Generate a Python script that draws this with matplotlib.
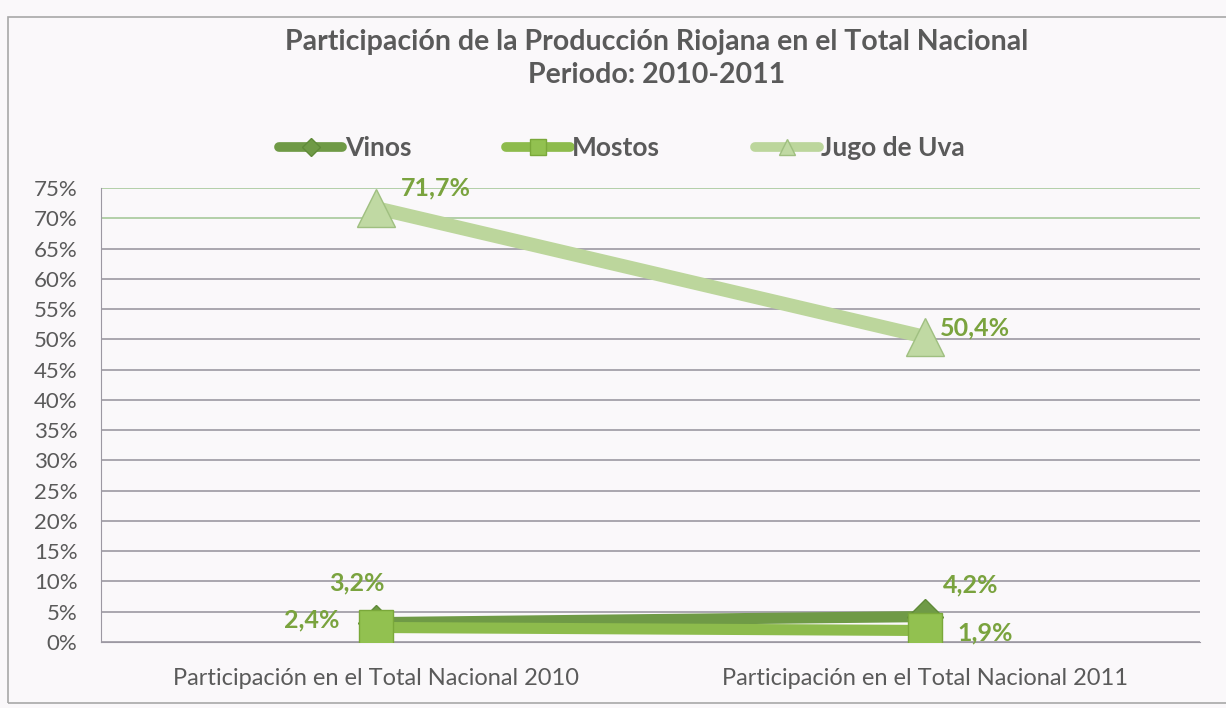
import matplotlib
matplotlib.use("Agg")
import matplotlib.pyplot as plt
from matplotlib.patches import Rectangle
from matplotlib.lines import Line2D

categories = ["Participación en el Total Nacional 2010", "Participación en el Total Nacional 2011"]
vinos = [3.2, 4.2]
mostos = [2.4, 1.9]
jugo = [71.7, 50.4]
series_names = ["Vinos", "Mostos", "Jugo de Uva"]
yticks = list(range(0, 80, 5))

plt.rcParams['font.family'] = ['Lato', 'DejaVu Sans']
bg = '#faf8fa'
fig = plt.figure(figsize=(12.26, 7.08), dpi=100, facecolor=bg)
ax = fig.add_axes([101/1226, 1 - 642/708, 1099/1226, (642-188)/708])
ax.set_facecolor(bg)

# outer border
fig.patches.append(Rectangle((8/1226, 5/708), 1.2, (690-5)/708 + 0.001, transform=fig.transFigure,
                             fill=False, edgecolor='#a8a8a8', linewidth=1.2))

x = list(range(len(categories)))
c_vinos = '#6f9a46'
c_mostos = '#8dbb4c'
c_jugo = '#bcd69c'

ax.plot(x, vinos, color=c_vinos, lw=8, marker='D', ms=18, mfc=c_vinos, mec='#5f8a38', zorder=3,
        solid_capstyle='butt')
ax.plot(x, mostos, color=c_mostos, lw=8, marker='s', ms=24, mfc='#92c150', mec='#7aa83a', zorder=4,
        solid_capstyle='butt')
ax.plot(x, jugo, color=c_jugo, lw=10, marker='^', ms=27, mfc='#c0d9a3', mec='#9fbf80', zorder=5,
        solid_capstyle='butt')

lab_col = '#7aa33e'
lkw = dict(color=lab_col, fontsize=18, fontweight='bold', zorder=6, ha='center', va='center',
           textcoords='offset points')
ax.annotate("71,7%", (0, jugo[0]), xytext=(43, 14.4), **lkw)
ax.annotate("50,4%", (1, jugo[1]), xytext=(36, 6.5), **lkw)
ax.annotate("3,2%", (0, vinos[0]), xytext=(-13.7, 28.5), **lkw)
ax.annotate("4,2%", (1, vinos[1]), xytext=(32.4, 22.7), **lkw)
ax.annotate("2,4%", (0, mostos[0]), xytext=(-46, 5.4), **lkw)
ax.annotate("1,9%", (1, mostos[1]), xytext=(43, -1.8), **lkw)

ax.set_xlim(-0.5, 1.5)
ax.set_ylim(0, 75)
ax.set_yticks(yticks)
ax.set_yticklabels([f"{v}%" for v in yticks])
ax.set_xticks(x)
ax.set_xticklabels(categories)
ax.tick_params(axis='both', length=0, colors='#5a5a5a', labelsize=16)
ax.tick_params(axis='x', pad=19, labelsize=17)
ax.tick_params(axis='y', pad=17)

for v in yticks:
    col = '#a6c99a' if v >= 70 else '#9c98a2'
    ax.axhline(v, color=col, lw=1.2, zorder=1)
for s in ['top', 'right']:
    ax.spines[s].set_visible(False)
ax.spines['left'].set_color('#9c98a2')
ax.spines['bottom'].set_color('#9c98a2')

fig.text(657/1226, 1 - 42/708, "Participación de la Producción Riojana en el Total Nacional",
         ha='center', va='center', fontsize=20.5, fontweight='bold', color='#5a5a5a')
fig.text(657/1226, 1 - 75/708, "Periodo: 2010-2011",
         ha='center', va='center', fontsize=20.5, fontweight='bold', color='#5a5a5a')

handles = [
    Line2D([], [], color=c_vinos, lw=7, marker='D', ms=9, mfc=c_vinos, mec='#5f8a38',
           solid_capstyle='round'),
    Line2D([], [], color=c_mostos, lw=7, marker='s', ms=12, mfc='#92c150', mec='#7aa83a',
           solid_capstyle='round'),
    Line2D([], [], color=c_jugo, lw=7, marker='^', ms=12, mfc='#c0d9a3', mec='#9fbf80',
           solid_capstyle='round'),
]
leg = fig.legend(handles, series_names, loc='center', bbox_to_anchor=(622/1226, 1 - 148/708), ncol=3,
                 frameon=False, handlelength=2.4, handletextpad=0.1, columnspacing=3.6,
                 prop=dict(family='Lato', weight='bold', size=19))
for t in leg.get_texts():
    t.set_color('#5a5a5a')

fig.savefig("out.png", dpi=100, facecolor=bg)
